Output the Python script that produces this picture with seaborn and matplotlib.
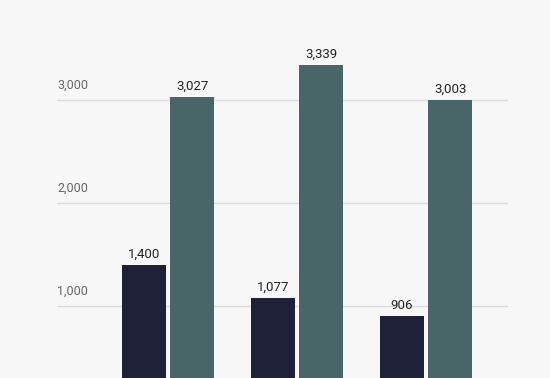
import matplotlib
matplotlib.use("Agg")
import matplotlib.pyplot as plt
import matplotlib.transforms as mtransforms
import seaborn as sns
import pandas as pd

categories = ["A", "B", "C"]
series_names = ["Series 1", "Series 2"]
series1 = [1400, 1077, 906]
series2 = [3027, 3339, 3003]
ytick_values = [1000, 2000, 3000]
ytick_labels = ["1,000", "2,000", "3,000"]

colors = ["#1b1e3c", "#436a6d"]
bg = "#f7f7f7"

df = pd.DataFrame({
    "category": categories * 2,
    "series": [series_names[0]] * 3 + [series_names[1]] * 3,
    "value": series1 + series2,
})

sns.set_theme(style="white")
plt.rcParams["font.family"] = ["Roboto", "DejaVu Sans"]

fig = plt.figure(figsize=(5.5, 3.78), dpi=100, facecolor=bg)
ax = fig.add_axes([57 / 550, 0, 451 / 550, 1])
ax.set_facecolor(bg)

sns.barplot(data=df, x="category", y="value", hue="series", order=categories,
            hue_order=series_names, palette=colors, width=0.75, gap=0.1,
            linewidth=0, legend=False, ax=ax, zorder=3)

ax.set_xlim(-0.86, 2.636)
ax.set_ylim(301, 3971)
ax.set_yticks(ytick_values)
ax.yaxis.grid(True, color="#dcdcdc", linewidth=1.0, zorder=0)
ax.set_axisbelow(True)
ax.tick_params(left=False, bottom=False, labelleft=False, labelbottom=False)
for s in ax.spines.values():
    s.set_visible(False)
ax.set_xlabel("")
ax.set_ylabel("")

trans = mtransforms.blended_transform_factory(ax.transAxes, ax.transData)
for v, lab in zip(ytick_values, ytick_labels):
    ax.annotate(lab, xy=(0, v), xycoords=trans, xytext=(0, 6),
                textcoords="offset points", ha="left", va="bottom",
                fontsize=9, color="#666666")

for container in ax.containers:
    ax.bar_label(container, labels=[f"{int(b.get_height()):,}" for b in container],
                 padding=3, fontsize=9.5, color="#222222")

fig.savefig("out.png", dpi=100, facecolor=bg)
